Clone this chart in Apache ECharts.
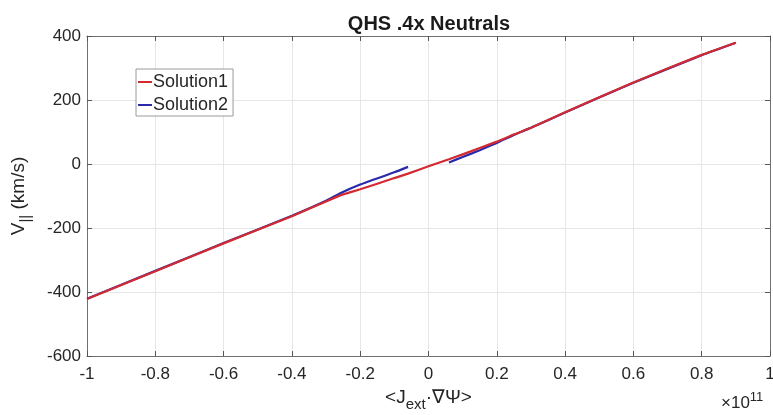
<!DOCTYPE html>
<html>
<head>
<meta charset="utf-8">
<script src="https://cdn.jsdelivr.net/npm/echarts@6/dist/echarts.min.js"></script>
<style>
  html, body { margin: 0; padding: 0; background: #ffffff; }
  #chart { width: 773px; height: 415px; }
</style>
</head>
<body>
<div id="chart"></div>
<script>
// Parallel velocity versus flux-surface averaged external current drive
const xTicks = [-1, -0.8, -0.6, -0.4, -0.2, 0, 0.2, 0.4, 0.6, 0.8, 1];
const yTicks = [-600, -400, -200, 0, 200, 400];

const solution1X = [-1, -0.8, -0.6, -0.4, -0.3, -0.25, -0.2, -0.1, -0.06, 0, 0.06, 0.1, 0.2, 0.25, 0.3, 0.4, 0.6, 0.8, 0.9];
const solution1Y = [-422, -335, -248, -163, -117, -95, -79, -44, -30, -7, 15, 30, 70, 92, 113, 162, 255, 341, 379];

// Solution2 has two branches with a gap around zero
const solution2LeftX = [-1, -0.8, -0.6, -0.4, -0.3, -0.26, -0.2, -0.1, -0.06];
const solution2LeftY = [-421, -334, -247, -162, -115, -92, -64, -26, -9];
const solution2RightX = [0.06, 0.1, 0.15, 0.2, 0.25, 0.3, 0.4, 0.6, 0.8, 0.9];
const solution2RightY = [5, 22, 43, 66, 91, 113, 161, 254, 340, 379];

const pairs = (xs, ys) => xs.map((x, i) => [x, ys[i]]);

const RED = '#d22a30';
const BLUE = '#2a2aaa';
const TXT = '#262626';
const AXIS = '#707070';
const FONT = '"Liberation Sans", Arial, sans-serif';

const chart = echarts.init(document.getElementById('chart'), null, { renderer: 'canvas' });

const tickLabel = { color: TXT, fontSize: 17, fontFamily: FONT };

chart.setOption({
  animation: false,
  backgroundColor: '#ffffff',
  title: {
    text: 'QHS .4x Neutrals',
    left: 424,
    top: 9,
    textAlign: 'center',
    textStyle: { color: '#1a1a1a', fontSize: 20, fontWeight: 'bold', fontFamily: FONT }
  },
  legend: {
    data: ['Solution1', 'Solution2'],
    orient: 'vertical',
    left: 136,
    top: 69,
    padding: [4, 5, 2, 2],
    itemGap: 5,
    itemWidth: 14,
    itemHeight: 2,
    icon: 'rect',
    backgroundColor: '#ffffff',
    borderColor: '#9a9a9a',
    borderWidth: 1,
    borderRadius: 0,
    textStyle: { color: TXT, fontSize: 18, lineHeight: 18, fontFamily: FONT, padding: [0, 0, 0, -4] }
  },
  grid: { left: 87, top: 36, right: 3, bottom: 59, containLabel: false, outerBoundsMode: 'none' },
  xAxis: [{
    type: 'value',
    min: xTicks[0],
    max: xTicks[xTicks.length - 1],
    interval: 0.2,
    name: '{a|<J}{s|ext}{a|·∇Ψ>}',
    nameLocation: 'middle',
    nameGap: 27,
    nameTextStyle: {
      rich: {
        a: { fontSize: 19, color: TXT, fontFamily: FONT },
        s: { fontSize: 15, color: TXT, fontFamily: FONT, padding: [14, 0, 0, 0] }
      }
    },
    axisLine: { show: true, onZero: false, lineStyle: { color: AXIS, width: 1 } },
    axisTick: { show: true, inside: true, length: 5, lineStyle: { color: '#555555' } },
    axisLabel: Object.assign({ margin: 10, formatter: v => String(Math.round(v * 10) / 10) }, tickLabel),
    splitLine: { show: true, lineStyle: { color: '#e6e6e6', width: 1 } }
  }, {
    type: 'value',
    position: 'top',
    min: xTicks[0],
    max: xTicks[xTicks.length - 1],
    interval: 0.2,
    axisLine: { show: true, onZero: false, lineStyle: { color: AXIS, width: 1 } },
    axisTick: { show: true, inside: true, length: 5, lineStyle: { color: '#555555' } },
    axisLabel: { show: false },
    splitLine: { show: false }
  }],
  yAxis: [{
    type: 'value',
    min: yTicks[0],
    max: yTicks[yTicks.length - 1],
    interval: 200,
    name: '{a|V}{s|||}{a| (km/s)}',
    nameLocation: 'middle',
    nameRotate: 90,
    nameGap: 54,
    nameTextStyle: {
      rich: {
        a: { fontSize: 19, color: TXT, fontFamily: FONT },
        s: { fontSize: 15, color: TXT, fontFamily: FONT, padding: [14, 0, 0, 0] }
      }
    },
    axisLine: { show: true, onZero: false, lineStyle: { color: AXIS, width: 1 } },
    axisTick: { show: true, inside: true, length: 5, lineStyle: { color: '#555555' } },
    axisLabel: Object.assign({ margin: 6 }, tickLabel),
    splitLine: { show: true, lineStyle: { color: '#e6e6e6', width: 1 } }
  }, {
    type: 'value',
    position: 'right',
    min: yTicks[0],
    max: yTicks[yTicks.length - 1],
    interval: 200,
    axisLine: { show: true, onZero: false, lineStyle: { color: AXIS, width: 1 } },
    axisTick: { show: true, inside: true, length: 5, lineStyle: { color: '#555555' } },
    axisLabel: { show: false },
    splitLine: { show: false }
  }],
  graphic: [{
    type: 'text',
    left: 721,
    top: 391,
    style: {
      text: '{a|×10}{s|11}',
      rich: {
        a: { fontSize: 17, fill: TXT, fontFamily: FONT },
        s: { fontSize: 13, fill: TXT, fontFamily: FONT, padding: [0, 0, 12, 0] }
      }
    }
  }],
  series: [{
    name: 'Solution2',
    type: 'line',
    showSymbol: false,
    symbol: 'none',
    z: 2,
    smooth: 0.15,
    color: BLUE,
    lineStyle: { color: BLUE, width: 2.2 },
    data: pairs(solution2LeftX, solution2LeftY)
  }, {
    name: 'Solution2',
    type: 'line',
    showSymbol: false,
    symbol: 'none',
    z: 2,
    smooth: 0.15,
    color: BLUE,
    lineStyle: { color: BLUE, width: 2.2 },
    data: pairs(solution2RightX, solution2RightY)
  }, {
    name: 'Solution1',
    type: 'line',
    showSymbol: false,
    symbol: 'none',
    z: 3,
    smooth: 0.15,
    color: RED,
    lineStyle: { color: RED, width: 2.2 },
    data: pairs(solution1X, solution1Y)
  }]
});
</script>
</body>
</html>
